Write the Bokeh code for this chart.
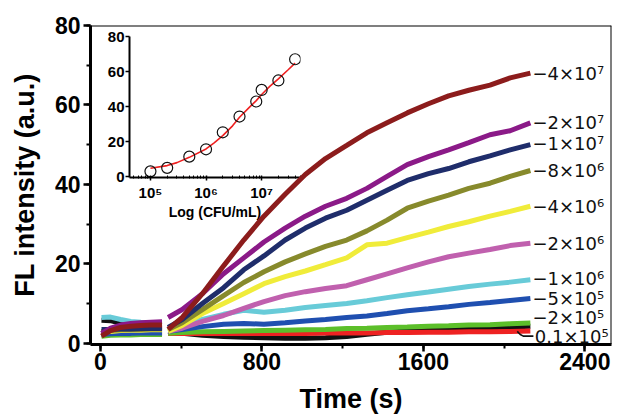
from bokeh.plotting import figure
from bokeh.models import Range1d, SingleIntervalTicker, FixedTicker, Span
from bokeh.layouts import column
from bokeh.core.properties import value
from bokeh.embed import file_html
from bokeh.resources import INLINE

FONT = "Liberation Sans"

# ---- main chart data: FL intensity vs time (s) ----
t_early = [5, 50, 100, 150, 200, 250, 305]
t_late = [335, 405, 505, 610, 710, 810, 915, 1015, 1115, 1220, 1320, 1420,
          1520, 1625, 1725, 1825, 1930, 2030, 2130]

early_black = [5.8, 5.7, 5.0, 4.5, 4.2, 4.0, 4.0]
late_black = [3.0, 2.5, 2.0, 1.7, 1.5, 1.4, 1.3, 1.3, 1.4, 1.7, 2.3, 2.8, 3.1, 3.3, 3.5, 3.7, 3.9, 4.1, 4.3]
early_red = [2.0, 2.2, 2.3, 2.4, 2.4, 2.4, 2.4]
late_red = [2.5, 2.5, 2.5, 2.5, 2.5, 2.5, 2.5, 2.5, 2.6, 2.6, 2.6, 2.7, 2.7, 2.8, 2.8, 2.9, 2.9, 3.0, 3.1]
early_2e5 = [1.8, 2.0, 2.1, 2.1, 2.2, 2.2, 2.2]
late_2e5 = [2.5, 2.7, 2.9, 3.0, 3.1, 3.2, 3.3, 3.4, 3.5, 3.7, 3.8, 4.0, 4.1, 4.3, 4.4, 4.6, 4.7, 4.9, 5.1]
early_5e5 = [2.2, 2.4, 2.5, 2.5, 2.6, 2.6, 2.6]
late_5e5 = [3.0, 3.5, 4.2, 4.8, 5.0, 4.8, 5.2, 5.6, 6.0, 6.5, 6.9, 7.5, 8.2, 8.7, 9.2, 9.8, 10.3, 10.8, 11.3]
early_1e6 = [6.5, 6.6, 6.0, 5.5, 5.3, 5.2, 5.2]
late_1e6 = [3.3, 4.5, 6.0, 7.3, 8.3, 7.8, 8.3, 9.0, 9.5, 10.0, 10.7, 11.5, 12.2, 12.9, 13.6, 14.3, 14.9, 15.4, 16.0]
early_2e6 = [3.0, 3.3, 3.5, 3.5, 3.6, 3.6, 3.6]
late_2e6 = [3.0, 3.8, 5.5, 7.0, 8.8, 10.5, 12.0, 13.0, 13.8, 14.5, 16.0, 17.5, 19.0, 20.5, 21.8, 22.7, 23.6, 24.6, 25.2]
early_4e6 = [2.8, 3.0, 3.2, 3.3, 3.3, 3.4, 3.4]
late_4e6 = [3.0, 4.5, 7.5, 10.0, 12.5, 15.0, 16.8, 18.2, 19.8, 21.5, 24.8, 25.2, 26.6, 28.0, 29.4, 30.6, 32.0, 33.2, 34.5]
early_8e6 = [3.0, 3.2, 3.4, 3.5, 3.5, 3.6, 3.6]
late_8e6 = [3.5, 5.2, 8.5, 12.0, 15.3, 18.0, 20.5, 22.5, 24.4, 26.0, 28.3, 31.0, 34.0, 35.8, 37.3, 39.0, 40.3, 42.0, 43.5]
early_1e7 = [3.5, 3.5, 3.6, 3.6, 3.7, 3.7, 3.7]
late_1e7 = [4.0, 6.0, 10.0, 14.0, 18.5, 22.0, 26.0, 29.0, 31.5, 33.5, 36.0, 38.5, 41.0, 42.7, 44.0, 45.7, 47.2, 48.7, 50.0]
early_2e7 = [2.5, 3.8, 4.6, 5.0, 5.2, 5.3, 5.4]
late_2e7 = [6.5, 8.5, 12.5, 17.5, 21.5, 25.5, 29.0, 32.0, 34.5, 36.5, 39.0, 42.0, 45.0, 47.0, 48.7, 50.5, 52.5, 53.5, 55.5]
early_4e7 = [1.8, 3.2, 4.0, 4.3, 4.5, 4.6, 4.6]
late_4e7 = [3.5, 6.5, 12.5, 19.5, 26.0, 32.0, 37.5, 42.5, 46.5, 49.8, 53.0, 55.5, 58.0, 60.3, 62.3, 63.7, 65.0, 66.8, 68.0]

# curve labels (concentration, CFU/mL)
label_text = ["\u22124\u00d710\u2077", "\u22122\u00d710\u2077", "\u22121\u00d710\u2077", "\u22128\u00d710\u2076",
              "\u22124\u00d710\u2076", "\u22122\u00d710\u2076", "\u22121\u00d710\u2076", "\u22125\u00d710\u2075",
              "\u22122\u00d710\u2075"]
label_y = [68.0, 55.5, 50.3, 43.5, 34.4, 25.1, 16.3, 11.3, 6.5]
last_label = "0.1\u00d710\u2075"
last_label_y = 1.8

# ---- inset data ----
conc = [1e5, 2e5, 5e5, 1e6, 2e6, 4e6, 8e6, 1e7, 2e7, 4e7]
conc_fl = [3.0, 5.0, 11.4, 15.6, 25.3, 34.3, 42.9, 49.5, 54.9, 67.0]
fit_x = [1e5, 2e5, 3e5, 5e5, 1e6, 1.4e6, 2e6, 3e6, 4e6, 6e6, 8e6, 1e7, 1.4e7, 2e7, 3e7, 4e7]
fit_y = [4.8, 6.3, 8.0, 11.0, 15.8, 19.3, 23.4, 29.0, 33.9, 39.5, 43.4, 46.9, 51.5, 55.8, 61.0, 64.8]
inset_y_ticks = [0, 20, 40, 60, 80]
inset_x_ticks = [1e5, 1e6, 1e7]
inset_x_labels = ["10\u2075", "10\u2076", "10\u2077"]

curves = [
    (early_black, late_black, "#111111"),
    (early_red, late_red, "#ee2222"),
    (early_2e5, late_2e5, "#5cbf2a"),
    (early_5e5, late_5e5, "#1f4fb0"),
    (early_1e6, late_1e6, "#68cbd8"),
    (early_2e6, late_2e6, "#c060ae"),
    (early_4e6, late_4e6, "#f0ec3a"),
    (early_8e6, late_8e6, "#878a2c"),
    (early_1e7, late_1e7, "#1f2d6b"),
    (early_2e7, late_2e7, "#8b1a88"),
    (early_4e7, late_4e7, "#8c1c1c"),
]

X0, X1, Y0, Y1 = -49.5, 2532, -0.3, 80
LEFT_BORDER = 90   # shared by both figures (column aligns frame edges)

# ---------------- main figure ----------------
p = figure(frame_width=521, frame_height=319, x_range=Range1d(X0, X1), y_range=Range1d(Y0, Y1),
           output_backend="svg", toolbar_location=None,
           min_border_left=LEFT_BORDER, min_border_right=1, min_border_top=25, min_border_bottom=69)
p.background_fill_alpha = 0
p.border_fill_alpha = 0
p.grid.visible = False
p.outline_line_color = None
p.add_layout(Span(location=Y1, dimension="width", line_color="black", line_width=2))
p.add_layout(Span(location=X1, dimension="height", line_color="black", line_width=2))

for e, l, c in curves:
    p.line(t_early, e, line_color=c, line_width=5)
    p.line(t_late, l, line_color=c, line_width=5)

p.text(x=[2140] * len(label_text), y=label_y, text=label_text,
       text_font=value("DejaVu Sans"), text_font_size="18px",
       text_baseline="middle", text_align="left", text_color="#111111")
t_end = t_late[-1]
p.line([t_end - 65, t_end - 50, t_end - 35, t_end + 15],
       [last_label_y + 1.2, last_label_y + 0.4, last_label_y, last_label_y],
       line_color="#111111", line_width=1.6)
p.text(x=[t_end + 22], y=[last_label_y], text=[last_label],
       text_font=value("DejaVu Sans"), text_font_size="18px",
       text_baseline="middle", text_align="left", text_color="#111111")

p.xaxis.ticker = SingleIntervalTicker(interval=800, num_minor_ticks=2)
p.yaxis.ticker = SingleIntervalTicker(interval=20, num_minor_ticks=2)
p.xaxis.axis_label = "Time (s)"
p.yaxis.axis_label = "FL intensity (a.u.)"
for ax in (p.xaxis[0], p.yaxis[0]):
    ax.axis_line_width = 3
    ax.axis_line_color = "black"
    ax.major_tick_line_width = 2.5
    ax.minor_tick_line_width = 2
    ax.major_tick_in = 0
    ax.major_tick_out = 7
    ax.minor_tick_in = 0
    ax.minor_tick_out = 4
    ax.major_label_text_font = FONT
    ax.major_label_text_font_style = "bold"
    ax.major_label_text_font_size = "23px"
    ax.major_label_text_color = "black"
    ax.axis_label_text_font = FONT
    ax.axis_label_text_font_style = "bold"
    ax.axis_label_text_font_size = "27px"
    ax.axis_label_text_color = "black"
p.xaxis.major_label_standoff = 1
p.xaxis.axis_label_standoff = 11
p.yaxis.major_label_standoff = 3
p.yaxis.axis_label_standoff = 12

# ---------------- inset ----------------
INSET_LEFT = 129  # page x of inset frame
INSET_TOP_BORDER = 12
q = figure(frame_width=171, frame_height=141, x_axis_type="log",
           x_range=Range1d(4.2e4, 5.0e7), y_range=Range1d(-0.5, 80),
           output_backend="svg", toolbar_location=None,
           min_border_left=LEFT_BORDER, min_border_right=1, min_border_top=INSET_TOP_BORDER,
           min_border_bottom=45,
           margin=(36 - INSET_TOP_BORDER, 0, 0, INSET_LEFT - LEFT_BORDER))
q.background_fill_alpha = 0
q.border_fill_alpha = 0
q.grid.visible = False
q.outline_line_color = None
q.line(fit_x, fit_y, line_color="#ee2020", line_width=1.6)
q.scatter(conc, conc_fl, marker="circle", size=11, fill_color=None,
          line_color="#111111", line_width=1.2)

minor = [m * 10 ** k for k in range(4, 8) for m in range(2, 10) if 4.2e4 <= m * 10 ** k <= 5e7]
q.xaxis.ticker = FixedTicker(ticks=inset_x_ticks, minor_ticks=minor)
q.xaxis.major_label_overrides = {k: v for k, v in zip(inset_x_ticks, inset_x_labels)}
q.yaxis.ticker = FixedTicker(ticks=inset_y_ticks)
q.xaxis.axis_label = "Log (CFU/mL)"
for ax in (q.xaxis[0], q.yaxis[0]):
    ax.axis_line_width = 2
    ax.axis_line_color = "black"
    ax.major_tick_line_width = 1.5
    ax.minor_tick_line_width = 1
    ax.major_label_text_font = FONT
    ax.major_label_text_font_style = "bold"
    ax.major_label_text_font_size = "15px"
    ax.major_label_text_color = "black"
    ax.axis_label_text_font = FONT
    ax.axis_label_text_font_style = "bold"
    ax.axis_label_text_font_size = "14px"
    ax.axis_label_text_color = "black"
q.xaxis.major_tick_in = 2
q.xaxis.major_tick_out = 3
q.xaxis.minor_tick_in = 2
q.xaxis.minor_tick_out = 1
q.xaxis.major_label_standoff = 3
q.xaxis.axis_label_standoff = 0
q.yaxis.major_tick_in = 0
q.yaxis.major_tick_out = 4
q.yaxis.minor_tick_out = 0
q.yaxis.minor_tick_in = 0
q.yaxis.major_label_standoff = 1

p.margin = (-(36 + 141 + 45), 0, 0, 0)
layout = column(q, p)

open("out.html", "w").write(file_html(layout, INLINE))
